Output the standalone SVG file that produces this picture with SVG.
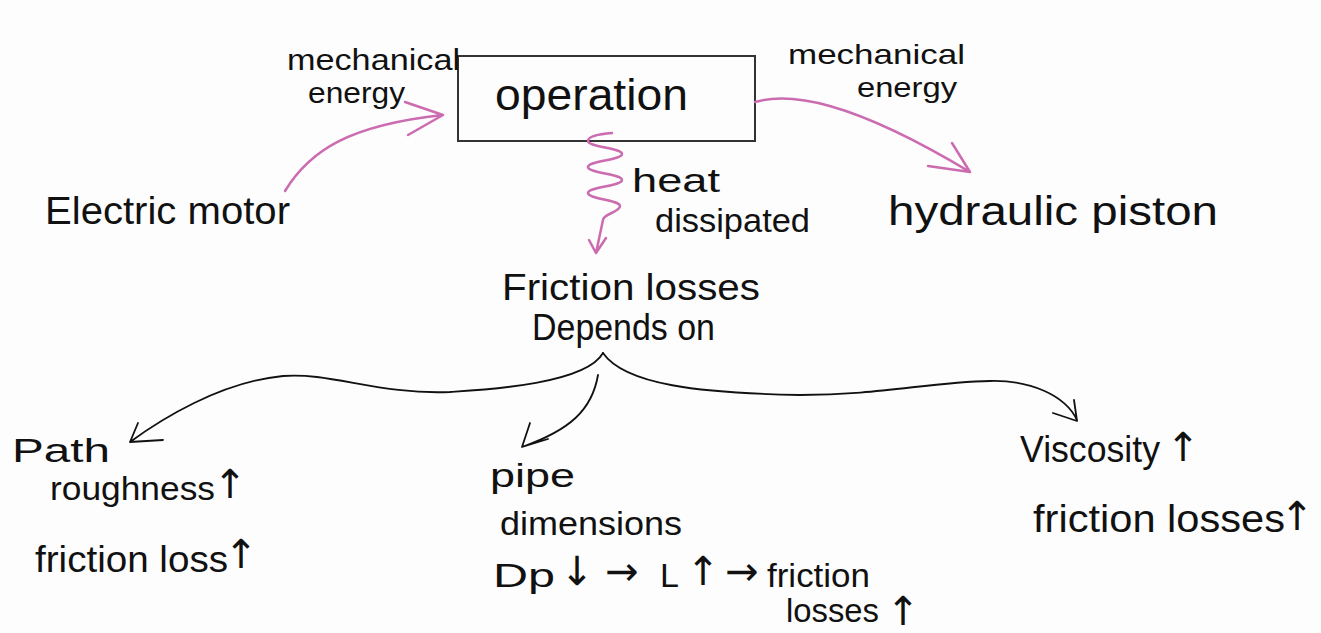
<svg xmlns="http://www.w3.org/2000/svg" width="1321" height="633" viewBox="0 0 1321 633">
<style>
.t{font-family:"Liberation Sans","DejaVu Sans",sans-serif;fill:#111;}
.ar{font-family:"DejaVu Sans","Liberation Sans",sans-serif;font-size:40px;fill:#111;text-anchor:middle;}
.pk{fill:none;stroke:#cc6cb0;stroke-width:2.5;stroke-linecap:round;stroke-linejoin:round;}
.bk{fill:none;stroke:#111;stroke-width:1.8;stroke-linecap:round;stroke-linejoin:round;}
</style>
<rect width="1321" height="633" fill="#fdfdfd"/>
<g id="operation">
<rect x="458" y="56" width="297" height="85" fill="none" stroke="#333" stroke-width="2"/>
<text class="t" x="495" y="110" font-size="44" textLength="193" lengthAdjust="spacingAndGlyphs">operation</text>
</g>
<g id="mech-left">
<text class="t" x="287" y="70" font-size="29" textLength="173" lengthAdjust="spacingAndGlyphs">mechanical</text>
<text class="t" x="308" y="103" font-size="29" textLength="97" lengthAdjust="spacingAndGlyphs">energy</text>
</g>
<g id="mech-right">
<text class="t" x="788" y="64" font-size="28" textLength="177" lengthAdjust="spacingAndGlyphs">mechanical</text>
<text class="t" x="857" y="97" font-size="28" textLength="100" lengthAdjust="spacingAndGlyphs">energy</text>
</g>
<g id="electric-motor">
<text class="t" x="45" y="224" font-size="38" textLength="245" lengthAdjust="spacingAndGlyphs">Electric motor</text>
</g>
<g id="hydraulic-piston">
<text class="t" x="888" y="225" font-size="40" textLength="330" lengthAdjust="spacingAndGlyphs">hydraulic piston</text>
</g>
<g id="heat">
<text class="t" x="632" y="192" font-size="34" textLength="88" lengthAdjust="spacingAndGlyphs">heat</text>
<text class="t" x="655" y="232" font-size="34" textLength="155" lengthAdjust="spacingAndGlyphs">dissipated</text>
</g>
<g id="friction-losses">
<text class="t" x="502" y="300" font-size="36" textLength="258" lengthAdjust="spacingAndGlyphs">Friction losses</text>
<text class="t" x="532" y="340" font-size="36" textLength="183" lengthAdjust="spacingAndGlyphs">Depends on</text>
</g>
<g id="path-roughness">
<text class="t" x="12" y="462" font-size="34" textLength="98" lengthAdjust="spacingAndGlyphs">Path</text>
<text class="t" x="50" y="500" font-size="34" textLength="165" lengthAdjust="spacingAndGlyphs">roughness</text>
<text class="ar" x="230" y="498">↑</text>
<text class="t" x="35" y="572" font-size="36" textLength="193" lengthAdjust="spacingAndGlyphs">friction loss</text>
<text class="ar" x="241" y="568">↑</text>
</g>
<g id="pipe-dimensions">
<text class="t" x="490" y="487" font-size="34" textLength="85" lengthAdjust="spacingAndGlyphs">pipe</text>
<text class="t" x="500" y="535" font-size="34" textLength="182" lengthAdjust="spacingAndGlyphs">dimensions</text>
<text class="t" x="493" y="587" font-size="34" textLength="62" lengthAdjust="spacingAndGlyphs">Dp</text>
<text class="ar" x="577" y="585">↓</text>
<text class="ar" x="622" y="585">→</text>
<text class="t" x="660" y="587" font-size="34">L</text>
<text class="ar" x="703" y="585">↑</text>
<text class="ar" x="742" y="585">→</text>
<text class="t" x="767" y="587" font-size="34" textLength="103" lengthAdjust="spacingAndGlyphs">friction</text>
<text class="t" x="786" y="622" font-size="34" textLength="93" lengthAdjust="spacingAndGlyphs">losses</text>
<text class="ar" x="903" y="625">↑</text>
</g>
<g id="viscosity">
<text class="t" x="1020" y="462" font-size="36" textLength="140" lengthAdjust="spacingAndGlyphs">Viscosity</text>
<text class="ar" x="1183" y="461">↑</text>
<text class="t" x="1033" y="532" font-size="38" textLength="252" lengthAdjust="spacingAndGlyphs">friction losses</text>
<text class="ar" x="1297" y="530">↑</text>
</g>
<g id="connectors">
<path class="pk" d="M285,191 C310,150 350,125 443,115 M405,102 L443,115 L408,135"/>
<path class="pk" d="M755,102 C790,92 850,100 970,172 M952,143 L970,172 L928,166"/>
<path class="pk" d="M612,133 C600,134 588,136 588,141 C588,147 622,148 622,154 C622,160 588,161 588,167 C588,173 622,174 622,180 C622,186 588,187 588,193 C588,199 620,200 620,206 C620,212 603,214 603,220 L596,253 M589,240 L596,253 L606,238"/>
<path class="bk" d="M603,353 C585,385 480,390 450,392 C380,395 330,372 283,376 C220,382 160,420 130,442 M163,440 L130,442 L138,423"/>
<path class="bk" d="M603,353 C625,385 700,393 800,395 C880,395 930,382 990,381 C1030,380 1065,395 1077,420 M1053,413 L1077,421 L1074,400"/>
<path class="bk" d="M598,375 C592,410 570,430 522,447 M548,439 L522,447 L530,423"/>
</g>
</svg>
